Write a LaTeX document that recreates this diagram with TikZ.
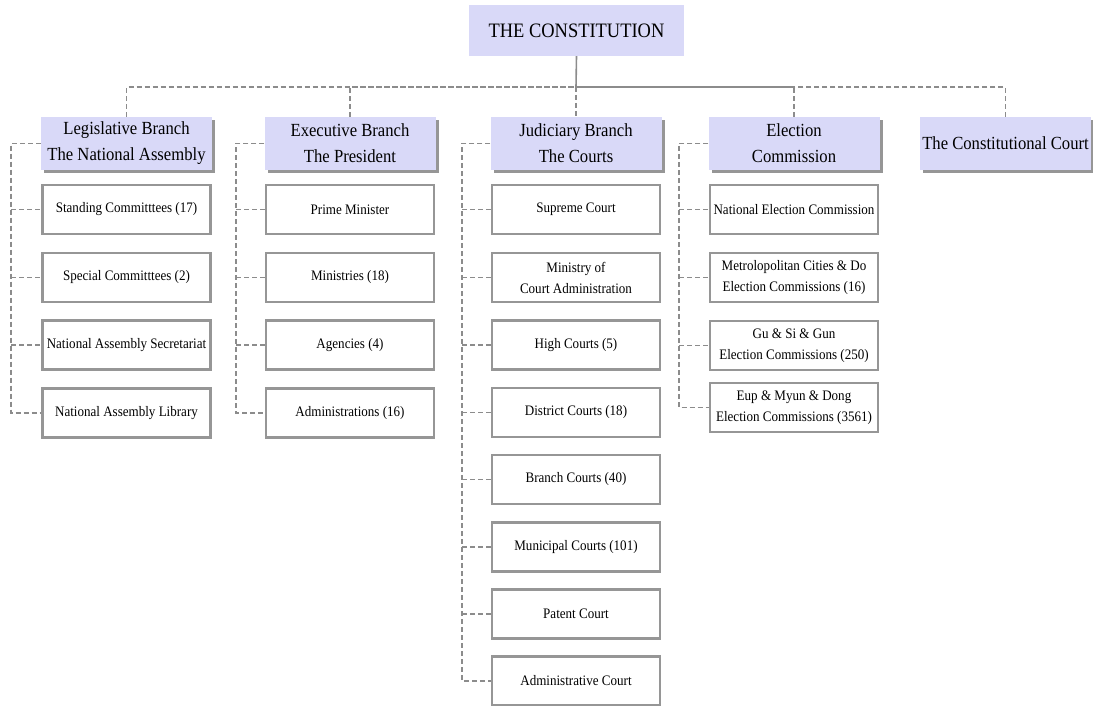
\documentclass[tikz,border=0pt]{standalone}
\usepackage{fontspec}
\setmainfont{Liberation Serif}[FakeStretch=0.9]
\usetikzlibrary{shadows}
\definecolor{lav}{RGB}{217,217,248}
\definecolor{lineg}{RGB}{140,140,140}
\definecolor{boxg}{RGB}{150,150,150}
\begin{document}
\begin{tikzpicture}[x=1pt,y=-1pt,
  topbox/.style={fill=lav, minimum width=215pt, minimum height=51pt, inner sep=0pt, font=\fontsize{20.5}{24}\selectfont},
  branchbox/.style={fill=lav, minimum width=171pt, minimum height=53pt, inner sep=0pt, align=center,
     font=\fontsize{18.5}{26}\selectfont,
     drop shadow={shadow xshift=3pt, shadow yshift=-3pt, fill=boxg, opacity=1}},
  childbox/.style={fill=white, draw=boxg, line width=2.3pt, minimum width=168pt, minimum height=49pt, inner sep=0pt,
     align=center, font=\fontsize{14.5}{21}\selectfont},
  conn/.style={draw=lineg, line width=1.6pt, dash pattern=on 5pt off 3pt},
  solidconn/.style={draw=lineg, line width=1.6pt}]
\useasboundingbox (0,0) rectangle (1093,706);

% top
\node[topbox] (const) at (576.5,30.5) {THE CONSTITUTION};
\coordinate (bus) at (576,87);

% branches
\node[branchbox] (leg) at (126.5,143.5) {Legislative Branch\\The National Assembly};
\node[branchbox] (exe) at (350,143.5) {Executive Branch\\The President};
\node[branchbox] (jud) at (576,143.5) {Judiciary Branch\\The Courts};
\node[branchbox] (ele) at (794,143.5) {Election\\Commission};
\node[branchbox] (cc) at (1005.5,143.5) {The Constitutional Court};

% spines
\coordinate (legsp) at (11,0);
\coordinate (exesp) at (236,0);
\coordinate (judsp) at (462,0);
\coordinate (elesp) at (679,0);

% legislative children
\node[childbox] (l1) at (126.5,209.5) {Standing Committtees (17)};
\node[childbox] (l2) at (126.5,277.5) {Special Committtees (2)};
\node[childbox] (l3) at (126.5,345) {National Assembly Secretariat};
\node[childbox] (l4) at (126.5,413) {National Assembly Library};

% executive children
\node[childbox] (e1) at (350,209.5) {Prime Minister};
\node[childbox] (e2) at (350,277.5) {Ministries (18)};
\node[childbox] (e3) at (350,345) {Agencies (4)};
\node[childbox] (e4) at (350,413) {Administrations (16)};

% judiciary children
\node[childbox] (j1) at (576,209.5) {Supreme Court};
\node[childbox] (j2) at (576,277.5) {Ministry of\\Court Administration};
\node[childbox] (j3) at (576,345) {High Courts (5)};
\node[childbox] (j4) at (576,412.5) {District Courts (18)};
\node[childbox] (j5) at (576,479.5) {Branch Courts (40)};
\node[childbox] (j6) at (576,547) {Municipal Courts (101)};
\node[childbox] (j7) at (576,614) {Patent Court};
\node[childbox] (j8) at (576,681) {Administrative Court};

% election children
\node[childbox] (c1) at (794,209.5) {National Election Commission};
\node[childbox] (c2) at (794,277.5) {Metrolopolitan Cities \& Do\\Election Commissions (16)};
\node[childbox] (c3) at (794,345.5) {Gu \& Si \& Gun\\Election Commissions (250)};
\node[childbox] (c4) at (794,407.5) {Eup \& Myun \& Dong\\Election Commissions (3561)};

% top connectors
\draw[solidconn] (const.south) -- (bus);
\draw[conn] (bus) -- (jud.north);
\draw[conn] (leg.north) |- (bus);
\draw[conn] (exe.north) |- (bus);
\draw[conn] (ele.north) |- (bus);
\draw[conn] (cc.north) |- (bus);

% legislative tree
\draw[conn] (leg.west) -- (leg.west -| legsp) |- (l4.west);
\foreach \n in {l1,l2,l3} \draw[conn] (\n.west -| legsp) -- (\n.west);
% executive tree
\draw[conn] (exe.west) -- (exe.west -| exesp) |- (e4.west);
\foreach \n in {e1,e2,e3} \draw[conn] (\n.west -| exesp) -- (\n.west);
% judiciary tree
\draw[conn] (jud.west) -- (jud.west -| judsp) |- (j8.west);
\foreach \n in {j1,j2,j3,j4,j5,j6,j7} \draw[conn] (\n.west -| judsp) -- (\n.west);
% election tree
\draw[conn] (ele.west) -- (ele.west -| elesp) |- (c4.west);
\foreach \n in {c1,c2,c3} \draw[conn] (\n.west -| elesp) -- (\n.west);
\end{tikzpicture}
\end{document}
